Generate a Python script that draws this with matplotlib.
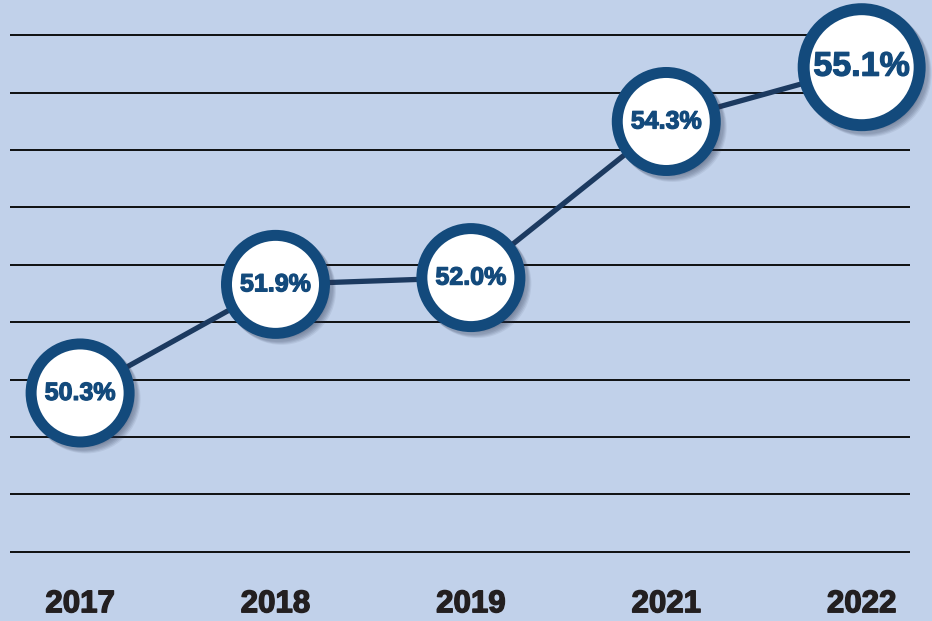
import numpy as np
import matplotlib.pyplot as plt
import matplotlib.transforms as mtransforms
import matplotlib.patheffects as pe

years = ['2017', '2018', '2019', '2021', '2022']
values = [50.3, 51.9, 52.0, 54.3, 55.1]
labels = ['50.3%', '51.9%', '52.0%', '54.3%', '55.1%']

bg = '#c1d1ea'
ring = '#134a7c'
line_col = '#1c3a60'

fig = plt.figure(figsize=(9.32, 6.21), dpi=100)
fig.patch.set_facecolor(bg)
ax = fig.add_axes([0, 0, 1, 1])
ax.set_facecolor(bg)
ax.set_xlim(-0.41, 4.36)
ax.set_ylim(46.94, 56.09)
ax.axis('off')

# horizontal rules
grid = np.linspace(55.57, 47.96, 10)
ax.hlines(grid, -0.358, 4.245, color='black', lw=1.3, zorder=1)

x = np.arange(len(years))
ax.plot(x, values, color=line_col, lw=3.8, zorder=2, solid_capstyle='butt')

sizes = [4980, 4980, 4980, 4980, 6975]
widths = [7.9, 7.9, 7.9, 7.9, 8.6]

# soft drop shadow, a few layers shifted down-right
for k, a in [(3, 0.10), (4, 0.10), (5, 0.10), (6, 0.08)]:
    tr = mtransforms.offset_copy(ax.transData, fig=fig, x=k, y=-k, units='dots')
    ax.scatter(x, values, s=sizes, facecolor='#2a3550', edgecolor='#2a3550',
               linewidths=widths, alpha=a, transform=tr, zorder=3)

ax.scatter(x, values, s=sizes, facecolor='white', edgecolor=ring,
           linewidths=widths, zorder=4)

for i, (v, lab) in enumerate(zip(values, labels)):
    fs = 24.5 if i == len(values) - 1 else 18
    ax.text(i, v, lab, ha='center', va='center', fontsize=fs, color=ring,
            fontweight='bold', family='Liberation Sans', zorder=5,
            path_effects=[pe.withStroke(linewidth=0.9, foreground=ring)])

tb = mtransforms.blended_transform_factory(ax.transData, ax.transAxes)
for i, yr in enumerate(years):
    ax.text(i, 0.027, yr, transform=tb, ha='center', va='center', fontsize=22.5,
            fontweight='bold', color='#231f20', family='Liberation Sans',
            path_effects=[pe.withStroke(linewidth=1.0, foreground='#231f20')])

fig.savefig('out.png', dpi=100, facecolor=bg)
